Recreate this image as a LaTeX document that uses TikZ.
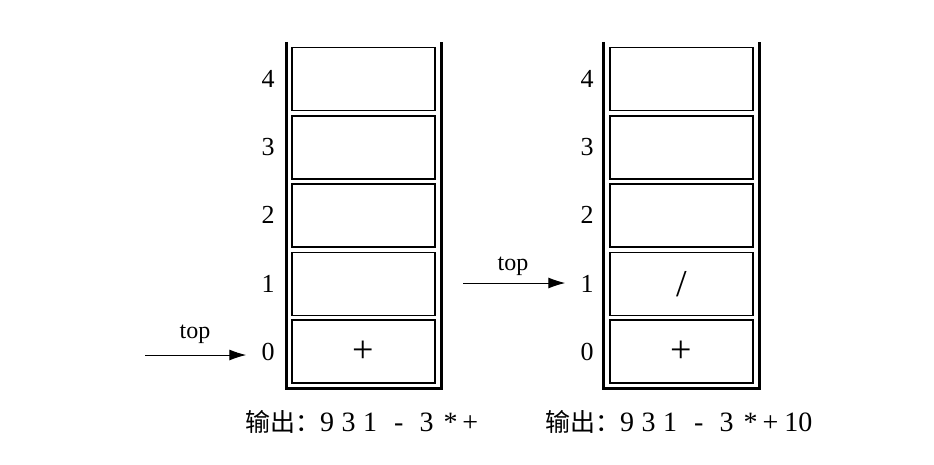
\documentclass[tikz,border=0pt]{standalone}
\usepackage{fontspec}
\setmainfont{Liberation Serif}
\newfontfamily\cjk{Noto Sans CJK SC}
\usetikzlibrary{arrows.meta}
\newcommand{\outseq}{{\cjk\fontsize{25}{25}\selectfont 输出：}9\hspace{7.5pt}3\hspace{7.5pt}1\hspace{17pt}-\hspace{16pt}3\hspace{10pt}*\hspace{5pt}+}
\begin{document}
\begin{tikzpicture}[x=1pt,y=-1pt,
  cell/.style={draw, line width=1.3pt, minimum width=143pt, minimum height=63pt, inner sep=0pt, font=\fontsize{38}{38}\selectfont},
  wall/.style={line width=3pt, line join=miter},
  idx/.style={inner sep=1pt, font=\fontsize{26}{26}\selectfont},
  toplbl/.style={inner sep=0pt, font=\fontsize{24}{24}\selectfont},
  ptr/.style={line width=1pt, -{Latex[length=17pt,width=11pt]}, shorten >=14pt},
  outtxt/.style={anchor=west, inner sep=0pt, font=\fontsize{28}{28}\selectfont}]
\useasboundingbox (0,0) rectangle (934,465);
% left stack
\draw[wall] (286,42) -- (286,388.5) -- (441.5,388.5) -- (441.5,42);
\node[cell] (L4) at (363.5,79) {};
\node[cell] (L3) at (363.5,147.5) {};
\node[cell] (L2) at (363.5,215.5) {};
\node[cell] (L1) at (363.5,284) {};
\node[cell] (L0) at (363.5,351.5) {+};
\node[idx] (l4) at (268,79) {4};
\node[idx] (l3) at (268,147) {3};
\node[idx] (l2) at (268,215) {2};
\node[idx] (l1) at (268,284) {1};
\node[idx] (l0) at (268,352) {0};
\coordinate (la) at (145,355);
\draw[ptr] (la) -- (l0.west |- la);
\node[toplbl] (ltop) at (195,334) {top};
\node[outtxt] (lout) at (245,422) {\outseq};
% right stack
\draw[wall] (603.5,42) -- (603.5,388.5) -- (759.5,388.5) -- (759.5,42);
\node[cell] (R4) at (681.5,79) {};
\node[cell] (R3) at (681.5,147.5) {};
\node[cell] (R2) at (681.5,215.5) {};
\node[cell] (R1) at (681.5,284) {/};
\node[cell] (R0) at (681.5,351.5) {+};
\node[idx] (r4) at (587,79) {4};
\node[idx] (r3) at (587,147) {3};
\node[idx] (r2) at (587,215) {2};
\node[idx] (r1) at (587,284) {1};
\node[idx] (r0) at (587,352) {0};
\coordinate (ra) at (463,283);
\draw[ptr] (ra) -- (r1.west |- ra);
\node[toplbl] (rtop) at (513,266) {top};
\node[outtxt] (rout) at (545,422) {\outseq\hspace{6pt}10};
\end{tikzpicture}
\end{document}
